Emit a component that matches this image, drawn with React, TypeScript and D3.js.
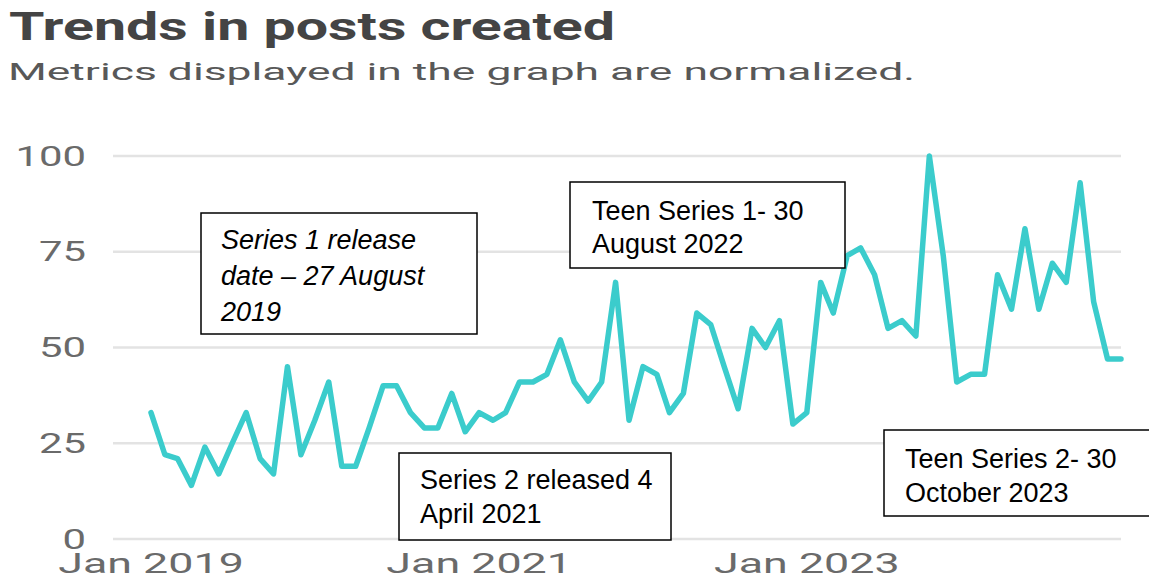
import React from "react";
import * as d3 from "d3";

// Monthly normalized post counts, Jan 2019 – Dec 2024
const firstMonth = new Date(2019, 0, 1);
const posts2019 = [33, 22, 21, 14, 24, 17, 25, 33, 21, 17, 45, 22];
const posts2020 = [31, 41, 19, 19, 29, 40, 40, 33, 29, 29, 38, 28];
const posts2021 = [33, 31, 33, 41, 41, 43, 52, 41, 36, 41, 67, 31];
const posts2022 = [45, 43, 33, 38, 59, 56, 45, 34, 55, 50, 57, 30];
const posts2023 = [33, 67, 59, 74, 76, 69, 55, 57, 53, 100, 74, 41];
const posts2024 = [43, 43, 69, 60, 81, 60, 72, 67, 93, 62, 47, 47];

const yTicks = [0, 25, 50, 75, 100];
const xTickDates = [new Date(2019, 0, 1), new Date(2021, 0, 1), new Date(2023, 0, 1)];
const xTickLabels = ["Jan 2019", "Jan 2021", "Jan 2023"];

const titleText = "Trends in posts created";
const subtitleText = "Metrics displayed in the graph are normalized.";

const noteSeries1 = ["Series 1 release", "date \u2013 27 August", "2019"];
const noteSeries2 = ["Series 2 released 4", "April 2021"];
const noteTeen1 = ["Teen Series 1- 30", "August 2022"];
const noteTeen2 = ["Teen Series 2- 30", "October 2023"];

const W = 1149;
const H = 580;
const LINE_COLOR = "#3bcccc";
const GRID_COLOR = "#e3e3e3";
const TICK_COLOR = "#6a6a6a";
const STRETCH = 1.55;

type Note = {
  lines: string[];
  x: number;
  y: number;
  w: number;
  h: number;
  tx: number;
  ty: number;
  lh: number;
  italic?: boolean;
};

const notes: Note[] = [
  { lines: noteSeries1, x: 201, y: 213, w: 276, h: 121, tx: 221, ty: 249, lh: 36, italic: true },
  { lines: noteSeries2, x: 399, y: 453, w: 272, h: 87, tx: 420, ty: 489, lh: 34 },
  { lines: noteTeen1, x: 570, y: 182, w: 275, h: 86, tx: 592, ty: 220, lh: 33 },
  { lines: noteTeen2, x: 884, y: 430, w: 280, h: 86, tx: 905, ty: 468, lh: 34 },
];

export default function App() {
  const values = [...posts2019, ...posts2020, ...posts2021, ...posts2022, ...posts2023, ...posts2024];
  const data = values.map((v, i) => ({ date: d3.timeMonth.offset(firstMonth, i), value: v }));

  const x = d3
    .scaleTime()
    .domain([firstMonth, data[data.length - 1].date])
    .range([151, 1121]);
  const y = d3.scaleLinear().domain([0, 100]).range([539, 156]);

  const line = d3
    .line<{ date: Date; value: number }>()
    .x((d) => x(d.date))
    .y((d) => y(d.value));

  return (
    <div style={{ position: "fixed", left: 0, top: 0 }}>
      <svg width={W} height={H} style={{ display: "block", background: "#fff" }}>
        <rect width={W} height={H} fill="#fff" />
        <text
          x={9}
          y={40}
          fontFamily="Roboto"
          fontWeight={700}
          fontSize={38}
          fill="#444"
          textLength={606}
          lengthAdjust="spacingAndGlyphs"
        >
          {titleText}
        </text>
        <text
          x={8}
          y={80}
          fontFamily="Roboto"
          fontSize={24}
          fill="#585858"
          textLength={907}
          lengthAdjust="spacingAndGlyphs"
        >
          {subtitleText}
        </text>

        {yTicks.map((t) => (
          <g key={t}>
            <line x1={113} x2={1121} y1={y(t)} y2={y(t)} stroke={GRID_COLOR} strokeWidth={2.5} />
            <text
              transform={`translate(86,${y(t)}) scale(${STRETCH},1)`}
              dy="0.36em"
              textAnchor="end"
              fontFamily="Roboto"
              fontSize={27}
              fill={TICK_COLOR}
            >
              {t}
            </text>
          </g>
        ))}

        {xTickDates.map((d, i) => (
          <text
            key={xTickLabels[i]}
            transform={`translate(${x(d)},573) scale(1.6,1)`}
            textAnchor="middle"
            fontFamily="Roboto"
            fontSize={28}
            fill={TICK_COLOR}
          >
            {xTickLabels[i]}
          </text>
        ))}

        <path
          d={line(data) ?? ""}
          fill="none"
          stroke={LINE_COLOR}
          strokeWidth={5.5}
          strokeLinejoin="round"
          strokeLinecap="round"
        />

        {notes.map((n, i) => (
          <g key={i}>
            <rect x={n.x} y={n.y} width={n.w} height={n.h} fill="#fff" stroke="#000" strokeWidth={1.5} />
            {n.lines.map((l, j) => (
              <text
                key={j}
                x={n.tx}
                y={n.ty + j * n.lh}
                fontFamily="Liberation Sans, Arial"
                fontStyle={n.italic ? "italic" : "normal"}
                fontSize={27}
                fill="#000"
              >
                {l}
              </text>
            ))}
          </g>
        ))}
      </svg>
    </div>
  );
}
